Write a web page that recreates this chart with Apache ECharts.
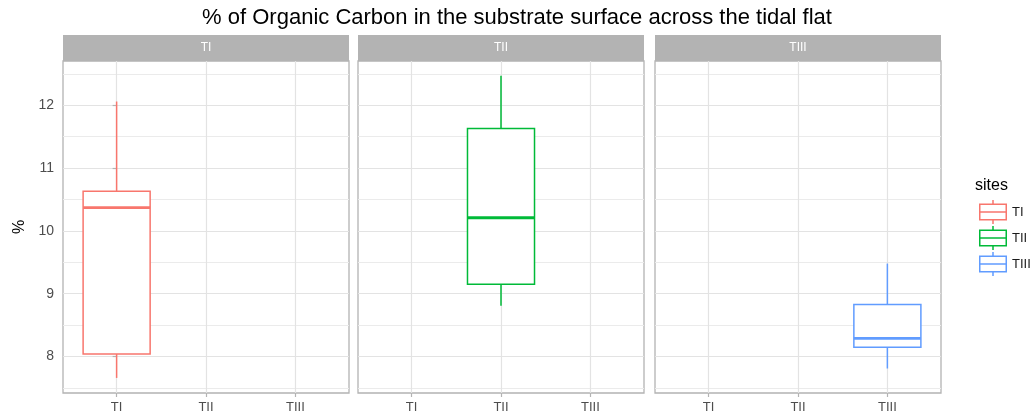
<!DOCTYPE html>
<html>
<head>
<meta charset="utf-8">
<style>
  html, body { margin: 0; padding: 0; background: #fff; }
  #chart { width: 1034px; height: 418px; }
</style>
<script src="https://cdn.jsdelivr.net/npm/echarts@6/dist/echarts.min.js"></script>
</head>
<body>
<div id="chart"></div>
<script>
// Sites on the tidal flat (one facet per site)
const sites = ['TI', 'TII', 'TIII'];
const siteColors = ['#F8766D', '#00BA38', '#619CFF'];

// Box statistics per site: [lower whisker, Q1, median, Q3, upper whisker]
const boxTI   = [7.66, 8.04, 10.37, 10.63, 12.06];
const boxTII  = [8.81, 9.15, 10.21, 11.63, 12.47];
const boxTIII = [7.81, 8.15, 8.29, 8.83, 9.48];
const boxes = [boxTI, boxTII, boxTIII];

// Axis ticks
const yMajorTicks = [8, 9, 10, 11, 12];
const yMinorTicks = [7.5, 8.5, 9.5, 10.5, 11.5, 12.5];
const yRange = [7.42, 12.705];
const xTicks = [0, 1, 2];

const FONT = '"Liberation Sans", Arial, sans-serif';
const panelLeft = [63, 358, 655];
const panelTop = 61, panelWidth = 286, panelHeight = 332;
const stripTop = 35, stripHeight = 26;

const grids = [], xAxes = [], yAxes = [], series = [], graphics = [];

panelLeft.forEach((left, i) => {
  grids.push({
    left: left, top: panelTop, width: panelWidth, height: panelHeight,
    show: true, borderColor: '#b3b3b3', borderWidth: 1.3, backgroundColor: '#fff'
  });

  xAxes.push({
    type: 'value', gridIndex: i, min: -0.6, max: 2.6,
    axisLine: { show: false },
    axisTick: { show: true, customValues: xTicks, length: 4, lineStyle: { color: '#b3b3b3', width: 1.2 } },
    axisLabel: {
      customValues: xTicks, margin: 8, color: '#4d4d4d', fontSize: 13, fontFamily: FONT,
      formatter: v => sites[Math.round(v)]
    },
    splitLine: { show: true, lineStyle: { color: '#e3e3e3', width: 1.2 } }
  });

  // major gridlines + labels
  yAxes.push({
    type: 'value', gridIndex: i, min: yRange[0], max: yRange[1],
    name: i === 0 ? '%' : '', nameLocation: 'middle', nameGap: 35, nameRotate: 90,
    nameTextStyle: { color: '#000', fontSize: 16, fontFamily: FONT },
    axisLine: { show: false },
    axisTick: { show: i === 0, customValues: yMajorTicks, length: 4, lineStyle: { color: '#b3b3b3', width: 1.2 } },
    axisLabel: { show: i === 0, customValues: yMajorTicks, margin: 9, color: '#4d4d4d', fontSize: 14, fontFamily: FONT },
    splitLine: { show: true, lineStyle: { color: '#e3e3e3', width: 1.2 } }
  });
  // minor gridlines
  yAxes.push({
    type: 'value', gridIndex: i, min: yRange[0], max: yRange[1], position: 'right',
    axisLine: { show: false },
    axisTick: { show: false, customValues: yMinorTicks },
    axisLabel: { show: false, customValues: yMinorTicks },
    splitLine: { show: true, lineStyle: { color: '#ebebeb', width: 1 } }
  });

  const b = boxes[i];
  series.push({
    name: sites[i],
    type: 'custom',
    xAxisIndex: i,
    yAxisIndex: 2 * i,
    itemStyle: { color: siteColors[i] },
    data: [[i, b[0], b[1], b[2], b[3], b[4]]],
    renderItem: function (params, api) {
      const x = api.value(0);
      const lo = api.coord([x, api.value(1)]);
      const q1 = api.coord([x, api.value(2)]);
      const md = api.coord([x, api.value(3)]);
      const q3 = api.coord([x, api.value(4)]);
      const hi = api.coord([x, api.value(5)]);
      const half = api.size([0.75, 0])[0] / 2;
      const col = api.visual('color');
      const cx = q1[0];
      const line = { stroke: col, lineWidth: 1.5 };
      return {
        type: 'group',
        children: [
          { type: 'line', shape: { x1: cx, y1: hi[1], x2: cx, y2: q3[1] }, style: line },
          { type: 'line', shape: { x1: cx, y1: q1[1], x2: cx, y2: lo[1] }, style: line },
          { type: 'rect', shape: { x: cx - half, y: q3[1], width: 2 * half, height: q1[1] - q3[1] },
            style: { fill: '#fff', stroke: col, lineWidth: 1.5 } },
          { type: 'line', shape: { x1: cx - half, y1: md[1], x2: cx + half, y2: md[1] },
            style: { stroke: col, lineWidth: 2.8 } }
        ]
      };
    }
  });

  // facet strip
  graphics.push({
    type: 'rect', left: left, top: stripTop,
    shape: { width: panelWidth, height: stripHeight },
    style: { fill: '#b3b3b3' }, z: 10
  });
  graphics.push({
    type: 'text', x: left + panelWidth / 2, y: stripTop + stripHeight / 2,
    style: { text: sites[i], fill: '#fff', font: '12px ' + FONT, align: 'center', verticalAlign: 'middle' },
    z: 11
  });
});

// legend title
graphics.push({
  type: 'text', x: 975, y: 186,
  style: { text: 'sites', fill: '#000', font: '16px ' + FONT, align: 'left', verticalAlign: 'middle' }
});

// boxplot glyph for legend keys (28 x 24)
const keyIcon = 'path://M13.25,0h1.5v3.5h-1.5z M0,3.5h28v1.5h-28z M0,19h28v1.5h-28z M0,3.5h1.5v17h-1.5z ' +
  'M26.5,3.5h1.5v17h-1.5z M0,11.25h28v1.5h-28z M13.25,20.5h1.5v3.5h-1.5z';

const chart = echarts.init(document.getElementById('chart'), null, { renderer: 'canvas' });
chart.setOption({
  animation: false,
  backgroundColor: '#fff',
  title: {
    text: '% of Organic Carbon in the substrate surface across the tidal flat',
    left: 'center', top: 2,
    textStyle: { color: '#000', fontSize: 22, fontWeight: 'normal', fontFamily: FONT }
  },
  legend: {
    orient: 'vertical', left: 979, top: 200, padding: 0,
    itemWidth: 28, itemHeight: 24, itemGap: 2,
    icon: keyIcon, symbolKeepAspect: false,
    data: sites,
    textStyle: { color: '#1a1a1a', fontSize: 13, fontFamily: FONT }
  },
  grid: grids,
  xAxis: xAxes,
  yAxis: yAxes,
  series: series,
  graphic: graphics
});
</script>
</body>
</html>
